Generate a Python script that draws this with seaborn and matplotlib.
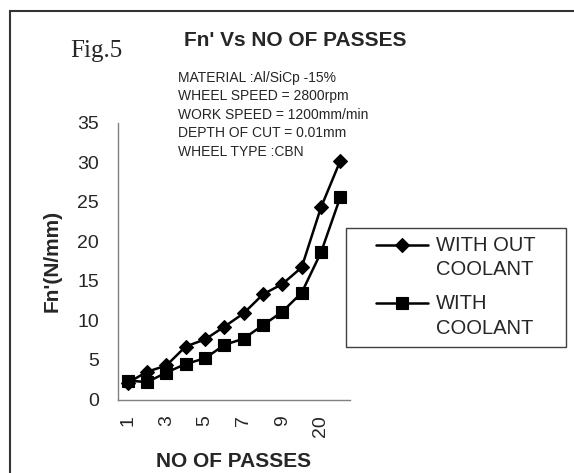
import numpy as np
import pandas as pd
import matplotlib
matplotlib.use("Agg")
import matplotlib.pyplot as plt
from matplotlib.patches import Rectangle
from matplotlib.legend_handler import HandlerLine2D
from matplotlib.transforms import Affine2D
import seaborn as sns

# Number of grinding passes (categorical axis) and normal force per unit width
passes = ["1", "2", "3", "4", "5", "6", "7", "8", "9", "10", "20", "30"]
fn_without_coolant = [2.1, 3.5, 4.3, 6.7, 7.6, 9.2, 10.9, 13.3, 14.6, 16.7, 24.3, 30.2]
fn_with_coolant = [2.4, 2.2, 3.4, 4.5, 5.2, 6.9, 7.7, 9.4, 11.1, 13.5, 18.6, 25.6]
series_labels = ["WITH OUT\nCOOLANT", "WITH\nCOOLANT"]
shown_tick_labels = ["1", "3", "5", "7", "9", "20"]
y_ticks = [0, 5, 10, 15, 20, 25, 30, 35]
info_lines = [
    "MATERIAL :Al/SiCp -15%",
    "WHEEL SPEED = 2800rpm",
    "WORK SPEED = 1200mm/min",
    "DEPTH OF CUT = 0.01mm",
    "WHEEL TYPE :CBN",
]

df = pd.DataFrame({
    "passes": passes * 2,
    "fn": fn_without_coolant + fn_with_coolant,
    "condition": [series_labels[0]] * len(passes) + [series_labels[1]] * len(passes),
})

sns.set_style("white")
plt.rcParams["font.family"] = ["Liberation Sans", "DejaVu Sans"]

W, H = 574, 473
fig = plt.figure(figsize=(W / 100, H / 100), dpi=100)


def fx(px):
    return px / W


def fy(py):
    return 1 - py / H


ax = fig.add_axes([fx(118), fy(399.5), (350 - 118) / W, (399.5 - 122.7) / H])

sns.pointplot(
    data=df, x="passes", y="fn", hue="condition",
    order=passes, hue_order=series_labels,
    palette=["black", "black"], markers=["D", "s"], linestyles=["-", "-"],
    errorbar=None, legend=False, linewidth=1.8, ax=ax,
)

series_lines = [ln for ln in ax.lines if len(ln.get_xdata()) == len(passes)]
for ln in series_lines:
    ln.set_linewidth(1.8)
    ln.set_markeredgewidth(0.8)
    ln.set_markersize(7.4 if ln.get_marker() == "D" else 8.4)

# Axes styling
axis_grey = "#808080"
for side in ("top", "right"):
    ax.spines[side].set_visible(False)
for side in ("left", "bottom"):
    ax.spines[side].set_color(axis_grey)
    ax.spines[side].set_linewidth(1.0)

ax.set_ylim(0, 35)
ax.set_yticks(y_ticks)
ax.set_yticklabels([str(v) for v in y_ticks])
ax.tick_params(axis="y", length=6, width=1, color=axis_grey, direction="out",
               pad=7.5, labelsize=14)

ax.set_xlim(-0.5, len(passes) - 0.5)
ax.set_xticks(np.arange(-0.5, len(passes), 1.0))
ax.set_xticklabels([""] * (len(passes) + 1))
ax.tick_params(axis="x", which="major", length=5, width=1, color=axis_grey,
               direction="out")
ax.set_xticks([passes.index(t) for t in shown_tick_labels], minor=True)
ax.set_xticklabels(shown_tick_labels, minor=True, rotation=90, fontsize=14)
ax.tick_params(axis="x", which="minor", length=0, pad=11)

ax.set_xlabel("NO OF PASSES", fontsize=15, fontweight="bold")
ax.xaxis.set_label_coords(0.5, -0.19)
ax.set_ylabel("Fn'(N/mm)", fontsize=15, fontweight="bold")
ax.yaxis.set_label_coords(-0.241, 0.5)


class FirstLineHandler(HandlerLine2D):
    """Line handle lifted to sit beside the first line of a wrapped label."""

    def __init__(self, shift, **kw):
        super().__init__(**kw)
        self.shift = shift

    def create_artists(self, legend, orig_handle, xdescent, ydescent,
                       width, height, fontsize, trans):
        trans = Affine2D().translate(0, self.shift) + trans
        return super().create_artists(legend, orig_handle, xdescent, ydescent,
                                      width, height, fontsize, trans)


leg = fig.legend(
    series_lines, series_labels,
    loc="upper left", bbox_to_anchor=(fx(375.7), fy(236)),
    bbox_transform=fig.transFigure,
    frameon=False, borderpad=0, borderaxespad=0,
    handlelength=2.6, handletextpad=0.4, labelspacing=0.75,
    prop={"size": 14.5},
    handler_map={ln: FirstLineHandler(9.5) for ln in series_lines},
)
for t in leg.get_texts():
    t.set_linespacing(1.35)

# Legend box
fig.add_artist(Rectangle((fx(346), fy(347)), (566 - 346) / W, (347 - 228) / H,
                         transform=fig.transFigure, fill=False,
                         edgecolor="#404040", linewidth=1.0))

# Outer frame (runs off the right and bottom edges)
fig.add_artist(Rectangle((fx(10), -0.1), 1.2, fy(11) + 0.1,
                         transform=fig.transFigure, fill=False,
                         edgecolor="#333333", linewidth=1.5))

fig.text(fx(295.5), fy(46), "Fn' Vs NO OF PASSES", ha="center", va="baseline",
         fontsize=15, fontweight="bold")
fig.text(fx(70), fy(57), "Fig.5", ha="left", va="baseline", fontsize=18,
         family=["Liberation Serif", "DejaVu Serif"])
for i, line in enumerate(info_lines):
    fig.text(fx(178), fy(81.7 + 18.5 * i), line, ha="left", va="baseline",
             fontsize=10)

fig.savefig("out.png", dpi=100)
